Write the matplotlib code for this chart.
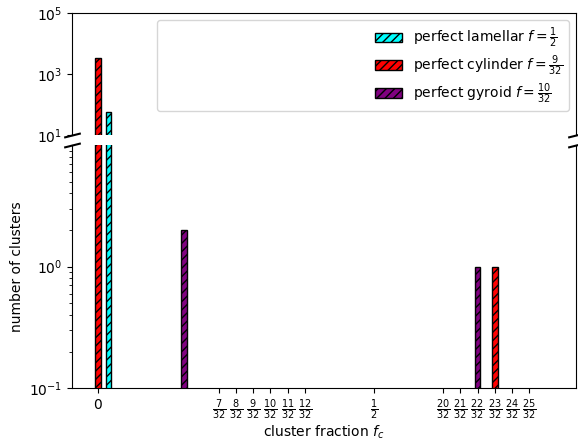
import numpy as np
import matplotlib.pyplot as plt
from matplotlib.offsetbox import DrawingArea

# cluster fractions (x) and counts (y) for each reference structure
lamellar_f = [0.019]
lamellar_n = [58]
cylinder_f = [0.0, 23 / 32]
cylinder_n = [3300, 1]
gyroid_f = [5 / 32, 22 / 32]
gyroid_n = [2, 1]
# all-structures total, sits behind the cylinder bar at f=0
total_f = [0.0]
total_n = [3450]

tick_num = [7, 8, 9, 10, 11, 12, 20, 21, 22, 23, 24, 25]
tick_pos = [0.0] + [k / 32 for k in tick_num[:6]] + [0.5] + [k / 32 for k in tick_num[6:]]
tick_lab = ['0'] + [r'$\frac{%d}{32}$' % k for k in tick_num[:6]] + [r'$\frac{1}{2}$'] + \
           [r'$\frac{%d}{32}$' % k for k in tick_num[6:]]

width = 0.01
fig = plt.figure(figsize=(5.78, 4.40), dpi=100)
ax_top = fig.add_axes([0.1246, 0.6932, 0.8719, 0.2768])
ax_bot = fig.add_axes([0.1246, 0.1175, 0.8719, 0.5530])

for ax in (ax_top, ax_bot):
    ax.bar(total_f, total_n, width, color='green', zorder=1)
    ax.bar(lamellar_f, lamellar_n, width, color='cyan', edgecolor='black', hatch='////',
           label=r'perfect lamellar $f=\frac{1}{2}$', zorder=2)
    ax.bar(cylinder_f, cylinder_n, width, color='red', edgecolor='black', hatch='////',
           label=r'perfect cylinder $f=\frac{9}{32}$', zorder=2)
    ax.bar(gyroid_f, gyroid_n, width, color='purple', edgecolor='black', hatch='////',
           label=r'perfect gyroid $f=\frac{10}{32}$', zorder=2)
    ax.set_yscale('log')
    ax.set_xlim(-1.5 / 32, 27.7 / 32)

ax_top.set_ylim(10, 1e5)
ax_bot.set_ylim(0.1, 10)
ax_bot.set_yticks([0.1, 1])

ax_top.spines['bottom'].set_visible(False)
ax_bot.spines['top'].set_visible(False)
ax_top.tick_params(bottom=False, labelbottom=False)
ax_top.yaxis.set_minor_locator(plt.NullLocator())

ax_bot.set_xticks(tick_pos)
ax_bot.set_xticklabels(tick_lab)
ax_bot.set_xlabel('cluster fraction $f_c$', labelpad=1)
ax_bot.set_ylabel('number of clusters')

# break marks on the cut between the two panels
d = 0.25
kw = dict(marker=[(-1, -d), (1, d)], markersize=12, linestyle='none',
          color='k', mec='k', mew=1.5, clip_on=False)
ax_top.plot([0, 1], [0, 0], transform=ax_top.transAxes, **kw)
ax_bot.plot([0, 1], [1, 1], transform=ax_bot.transAxes, **kw)

leg = ax_top.legend(loc='upper right', bbox_to_anchor=(0.155, 0.0, 0.845, 1.0),
                    mode='expand', labelspacing=0.25)
# push the single column to the right edge of the widened box
leg._legend_handle_box._children.insert(0, DrawingArea(0, 0))

fig.savefig('out.png', dpi=100)
